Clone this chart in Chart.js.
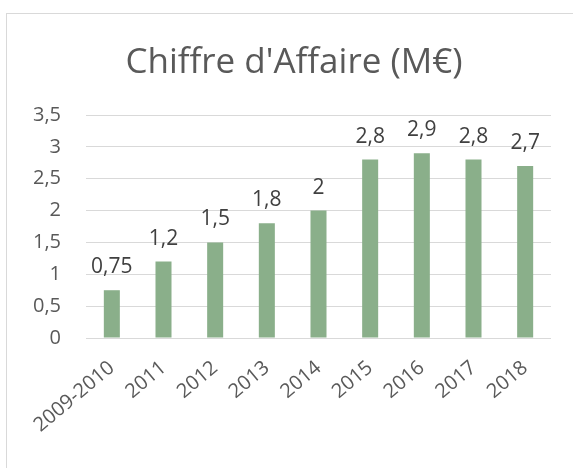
<!DOCTYPE html>
<html>
<head>
<meta charset="utf-8">
<script src="https://cdn.jsdelivr.net/npm/chart.js@4/dist/chart.umd.min.js"></script>
<style>
  html, body { margin: 0; padding: 0; background: #fff; }
  #cadre { position: absolute; left: 6px; top: 13px; width: 580px; height: 480px; border: 1px solid #d9d9d9; }
  #zone { position: absolute; left: 0; top: 0; width: 573px; height: 468px; }
</style>
</head>
<body>
<div id="cadre"></div>
<div id="zone"><canvas id="graphique"></canvas></div>
<script>
// Données
const titre = "Chiffre d'Affaire (M€)";
const annees = ['2009-2010', '2011', '2012', '2013', '2014', '2015', '2016', '2017', '2018'];
const chiffreAffaire = [0.75, 1.2, 1.5, 1.8, 2, 2.8, 2.9, 2.8, 2.7];
const graduations = [0, 0.5, 1, 1.5, 2, 2.5, 3, 3.5];

const virgule = v => String(v).replace('.', ',');

// Titre (centré comme dans Excel, un peu à droite du centre du canevas)
const titrePerso = {
    id: 'titrePerso',
    afterDraw(chart) {
        const ctx = chart.ctx;
        ctx.save();
        ctx.font = '35px "Open Sans"';
        ctx.fillStyle = '#595959';
        ctx.textAlign = 'center';
        ctx.textBaseline = 'alphabetic';
        ctx.fillText(titre, 294, 73);
        ctx.restore();
    }
};

// Étiquettes de valeur au-dessus des barres
const etiquettes = {
    id: 'etiquettes',
    afterDatasetsDraw(chart) {
        const ctx = chart.ctx;
        const meta = chart.getDatasetMeta(0);
        ctx.save();
        ctx.font = '21px "Open Sans"';
        ctx.fillStyle = '#404040';
        ctx.textAlign = 'center';
        ctx.textBaseline = 'alphabetic';
        meta.data.forEach((barre, i) => {
            ctx.fillText(virgule(chiffreAffaire[i]), barre.x, barre.y - 17);
        });
        ctx.restore();
    }
};

const ctx = document.getElementById('graphique').getContext('2d');
new Chart(ctx, {
    type: 'bar',
    data: {
        labels: annees,
        datasets: [{
            label: titre,
            data: chiffreAffaire,
            backgroundColor: '#8aaf8a',
            borderWidth: 0,
            categoryPercentage: 1,
            barPercentage: 0.31
        }]
    },
    options: {
        responsive: true,
        maintainAspectRatio: false,
        animation: false,
        layout: { padding: { left: 0, right: 22, top: 115, bottom: 0 } },
        plugins: {
            legend: { display: false },
            tooltip: { enabled: false },
            title: { display: false }
        },
        scales: {
            x: {
                grid: { display: false },
                border: { display: false },
                ticks: {
                    color: '#595959',
                    font: { family: 'Open Sans', size: 20 },
                    minRotation: 40,
                    maxRotation: 40,
                    padding: 10
                },
                afterFit(scale) { scale.height = 130; }
            },
            y: {
                min: 0,
                max: 3.5,
                grid: { color: '#d9d9d9', lineWidth: 1, drawTicks: false },
                border: { display: false },
                afterBuildTicks(scale) { scale.ticks = graduations.map(v => ({ value: v })); },
                ticks: {
                    color: '#595959',
                    font: { family: 'Open Sans', size: 20 },
                    padding: 25,
                    callback: v => virgule(v)
                },
                afterFit(scale) { scale.width = 86; }
            }
        }
    },
    plugins: [etiquettes, titrePerso]
});
</script>
</body>
</html>
